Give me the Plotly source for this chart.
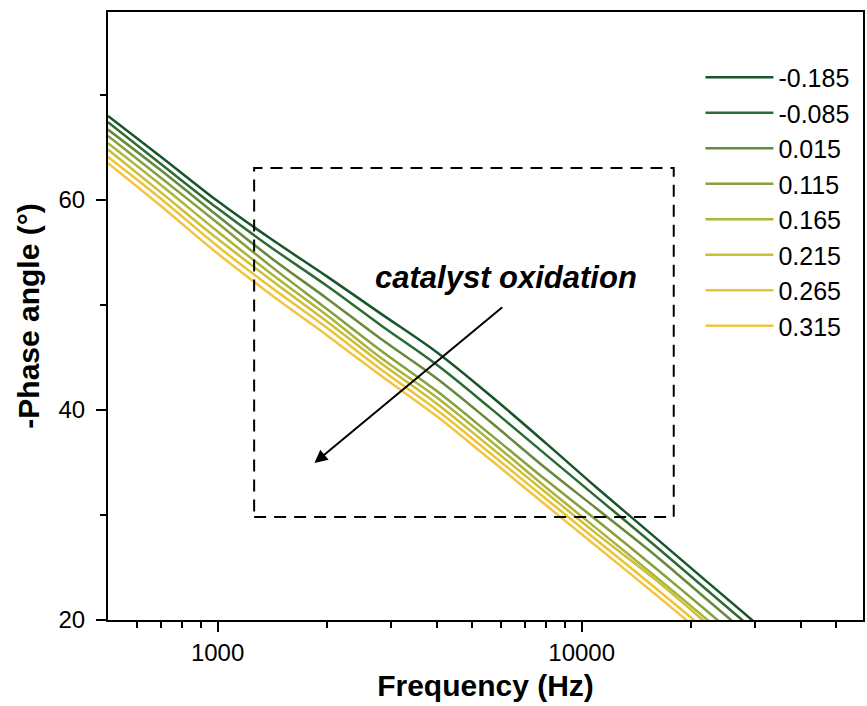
import plotly.graph_objects as go
import numpy as np

# ---- data ----
freq = [500, 700, 1000, 1400, 2000, 2800, 4000, 5600, 8000, 11000, 16000, 22000, 32000]

potentials = ["-0.185", "-0.085", "0.015", "0.115", "0.165", "0.215", "0.265", "0.315"]

phase_m0185 = [68.0, 64.1, 59.9, 56.3, 52.7, 49.2, 45.5, 41.4, 36.8, 32.6, 27.8, 23.7, 18.9]
phase_m0085 = [67.4, 63.4, 59.2, 55.5, 51.8, 48.1, 44.3, 40.2, 35.7, 31.7, 27.0, 22.9, 18.1]
phase_0015 = [66.7, 62.8, 58.5, 54.5, 50.6, 46.8, 43.0, 38.9, 34.4, 30.6, 26.1, 22.0, 17.2]
phase_0115 = [66.1, 62.1, 57.8, 53.7, 49.6, 45.7, 41.8, 37.7, 33.3, 29.5, 24.9, 20.9, 16.1]
phase_0165 = [65.4, 61.4, 57.0, 53.0, 49.0, 45.0, 41.2, 37.1, 32.6, 28.7, 24.1, 20.1, 15.3]
phase_0215 = [64.8, 60.7, 56.3, 52.4, 48.4, 44.5, 40.6, 36.5, 32.1, 28.2, 23.8, 19.7, 14.9]
phase_0265 = [64.1, 60.1, 55.6, 51.7, 47.8, 43.9, 40.0, 35.9, 31.5, 27.6, 23.0, 19.0, 14.2]
phase_0315 = [63.5, 59.4, 54.9, 51.0, 47.1, 43.3, 39.4, 35.3, 30.9, 27.0, 22.4, 18.4, 13.6]

series = [phase_m0185, phase_m0085, phase_0015, phase_0115,
          phase_0165, phase_0215, phase_0265, phase_0315]

colors = ["#17552b", "#2c6c33", "#66893a", "#86a03c",
          "#abb53c", "#cbbf36", "#eac432", "#f2c440"]

x_ticks = [1000, 10000]
x_ticktext = ["1000", "10000"]
x_minor = [600, 700, 800, 900, 2000, 3000, 4000, 5000, 6000, 7000, 8000, 9000,
           20000, 30000, 40000, 50000]
y_ticks = [20, 40, 60]
y_minor = [30, 50, 70]

box_x = [1260, 17900]
box_y = [29.8, 63.05]

arrow_tail = (6110, 49.9)
arrow_head = (1845, 34.95)
label_pos = (6190, 52.6)

FONT = "Arial, Liberation Sans, sans-serif"

fig = go.Figure()
for name, vals, col in zip(potentials, series, colors):
    fig.add_trace(go.Scatter(x=freq, y=vals, mode="lines", name=name,
                             line=dict(color=col, width=2.5, shape="spline")))

fig.add_shape(type="rect", xref="x", yref="y",
              x0=box_x[0], x1=box_x[1], y0=box_y[0], y1=box_y[1],
              line=dict(color="black", width=2, dash="12px,8px"))

fig.add_annotation(x=np.log10(arrow_head[0]), y=arrow_head[1], xref="x", yref="y",
                   ax=np.log10(arrow_tail[0]), ay=arrow_tail[1], axref="x", ayref="y",
                   text="", showarrow=True, arrowhead=2, arrowsize=1.3,
                   arrowwidth=2, arrowcolor="black")
fig.add_annotation(x=np.log10(label_pos[0]), y=label_pos[1], xref="x", yref="y",
                   text="<b><i>catalyst oxidation</i></b>", showarrow=False,
                   font=dict(family=FONT, size=31, color="black"))

fig.update_layout(
    width=867, height=706,
    margin=dict(l=108, r=2, t=12, b=86),
    paper_bgcolor="white", plot_bgcolor="white",
    font=dict(family=FONT, color="black"),
    legend=dict(x=0.7847, y=0.930, xanchor="left", yanchor="top",
                font=dict(size=25, family=FONT), bgcolor="rgba(0,0,0,0)",
                itemwidth=68, tracegroupgap=0),
    xaxis=dict(type="log", range=[np.log10(500), np.log10(59250)],
               tickmode="array", tickvals=x_ticks, ticktext=x_ticktext,
               ticks="outside", ticklen=10, tickwidth=2, tickcolor="black",
               minor=dict(tickmode="array", tickvals=x_minor, ticks="outside",
                          ticklen=6, tickwidth=2, tickcolor="black"),
               showline=True, linewidth=2, linecolor="black", mirror=True,
               showgrid=False, zeroline=False,
               tickfont=dict(size=24, family=FONT),
               title=dict(text="<b>Frequency (Hz)</b>", font=dict(size=30, family=FONT), standoff=10)),
    yaxis=dict(range=[20, 77.9],
               tickmode="array", tickvals=y_ticks,
               ticks="outside", ticklen=10, tickwidth=2, tickcolor="black",
               minor=dict(tickmode="array", tickvals=y_minor, ticks="outside",
                          ticklen=6, tickwidth=2, tickcolor="black"),
               showline=True, linewidth=2, linecolor="black", mirror=True,
               showgrid=False, zeroline=False,
               tickfont=dict(size=24, family=FONT), ticklabelstandoff=6,
               title=dict(text="<b>-Phase angle (°)</b>", font=dict(size=30, family=FONT), standoff=10)),
)

fig.write_html("out.html")
